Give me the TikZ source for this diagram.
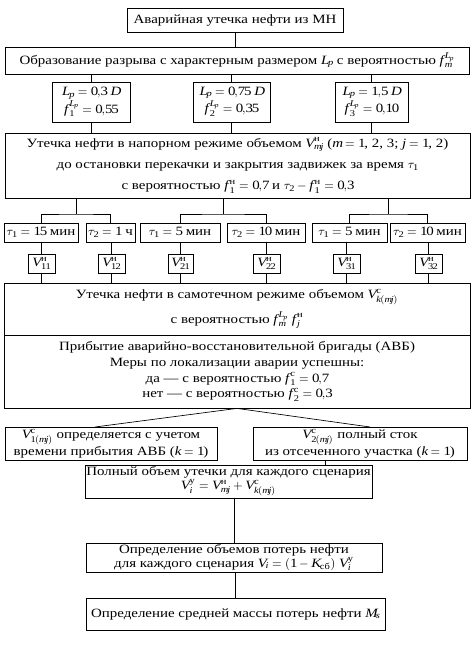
\documentclass[tikz,border=0pt]{standalone}
\usepackage{amsmath}
\usepackage{mathspec}
\setmainfont{Liberation Serif}[FakeStretch=1.18]
\setmathsfont(Digits,Latin)[FakeStretch=1.18]{Liberation Serif}
\usepackage{tikz}
\tikzset{
    blk/.style={
        draw, line width=0.6pt, inner sep=0pt, align=center,
        font=\fontsize{9.5}{11}\selectfont
    },
    lnk/.style={line width=0.5pt}
}
\newcommand{\blk}[7][] {
	\node[blk, minimum width={(#5-#3)*0.75pt}, minimum height={(#6-#4)*0.75pt}, #1] (#2) at ({(#3+#5)/2},{(#4+#6)/2}) {#7};
}
\newcommand{\cy}[1]{\text{#1}}
\newcommand{\ff}{{f\mkern2.5mu}}
\newcommand{\VV}{{V\mkern1.5mu}}

\begin{document}
\begin{tikzpicture}[x=0.75pt,y=-0.75pt]
		\useasboundingbox (0,0) rectangle (475,645);

		% Rupture and its size
		\blk{avar}{127}{8}{343}{32}{Аварийная утечка нефти из МН}
		\blk{razr}{5}{47}{469}{74}{Образование разрыва с характерным размером $L_p$ с вероятностью $\ff_m^{L_p}$}
		\blk[font=\fontsize{9.5}{13}\selectfont]{lpA}{52}{82}{130}{122}{$L_p = 0{,}3\ D$\\$\ff_1^{L_p} = 0{,}55$}
		\blk[font=\fontsize{9.5}{13}\selectfont]{lpB}{193}{82}{270}{122}{$L_p = 0{,}75\ D$\\$\ff_2^{L_p} = 0{,}35$}
		\blk[font=\fontsize{9.5}{13}\selectfont]{lpC}{335}{82}{408}{122}{$L_p = 1{,}5\ D$\\$\ff_3^{L_p} = 0{,}10$}

		% Pressure leak
		\blk[font=\fontsize{9.5}{16}\selectfont]{napor}{5}{133}{470}{198}
			{Утечка нефти в напорном режиме объемом $\VV_{mj}^{\cy{н}}$ ($m = 1$, 2, 3; $j = 1$, 2)\\
			до остановки перекачки и закрытия задвижек за время $\tau_1$\\
			с вероятностью $\ff_1^{\cy{н}} = 0{,}7$ и $\tau_2 - \ff_1^{\cy{н}} = 0{,}3$}

		\blk{t11}{4}{223}{78}{242}{$\tau_1 = 15$ мин}
		\blk{t12}{86}{223}{135}{242}{$\tau_2 = 1$ ч}
		\blk{t21}{140}{223}{220}{242}{$\tau_1 = 5$ мин}
		\blk{t22}{227}{223}{305}{242}{$\tau_2 = 10$ мин}
		\blk{t31}{312}{223}{387}{242}{$\tau_1 = 5$ мин}
		\blk{t32}{390}{223}{465}{242}{$\tau_2 = 10$ мин}

		\blk{v11}{28}{254}{55}{273}{$\VV_{11}^{\cy{н}}$}
		\blk{v12}{98}{254}{125}{273}{$\VV_{12}^{\cy{н}}$}
		\blk{v21}{168}{254}{193}{273}{$\VV_{21}^{\cy{н}}$}
		\blk{v22}{253}{254}{280}{273}{$\VV_{22}^{\cy{н}}$}
		\blk{v31}{333}{254}{360}{273}{$\VV_{31}^{\cy{н}}$}
		\blk{v32}{415}{254}{442}{273}{$\VV_{32}^{\cy{н}}$}

		% Gravity leak and the brigade
		\blk[font=\fontsize{9.5}{18.5}\selectfont]{samo}{4}{283}{470}{335}{Утечка нефти в самотечном режиме объемом $\VV_{k(mj)}^{\cy{с}}$\\с вероятностью $\ff_m^{L_p}\ \ff_j^{\cy{н}}$}
		\blk[font=\fontsize{9.5}{11.8}\selectfont]{avb}{4}{335}{470}{408}
			{Прибытие аварийно-восстановительной бригады (АВБ)\\
			Меры по локализации аварии успешны:\\
			да — с вероятностью $\ff_1^{\cy{с}} = 0{,}7$\\
			нет — с вероятностью $\ff_2^{\cy{с}} = 0{,}3$}

		\blk[font=\fontsize{9.5}{10.5}\selectfont]{kone}{5}{427}{217}{460}{$\VV_{1(mj)}^{\cy{с}}$ определяется с учетом\\времени прибытия АВБ ($k = 1$)}
		\blk[font=\fontsize{9.5}{10.5}\selectfont]{ktwo}{253}{427}{467}{460}{$\VV_{2(mj)}^{\cy{с}}$ полный сток\\из отсеченного участка ($k = 1$)}

		% Totals
		\blk[font=\fontsize{9.5}{10.5}\selectfont]{polny}{85}{465}{372}{498}{Полный объем утечки для каждого сценария\\$\VV_i^{\cy{у}} = \VV_{mj}^{\cy{н}} + \VV_{k(mj)}^{\cy{с}}$}
		\blk[font=\fontsize{9.5}{10.5}\selectfont]{poter}{86}{543}{382}{572}{Определение объемов потерь нефти\\для каждого сценария $V_i = (1 - K_{\cy{сб}})\ \VV_i^{\cy{у}}$}
		\blk{massa}{86}{598}{385}{630}{Определение средней массы потерь нефти $M_s$}

		% Connectors
		\coordinate (j1) at (76.5,214);
		\coordinate (j2) at (223,214);
		\coordinate (j3) at (388.5,214);
		\coordinate (kl) at (95,427);
		\coordinate (kr) at (370,427);
		\coordinate (s7) at (325,465);

		\draw[lnk] (avar.south) -- (avar.south |- razr.north);
		\foreach \n in {lpA,lpB,lpC} {
			\draw[lnk] (\n.north) -- (\n.north |- razr.south);
			\draw[lnk] (\n.south) -- (\n.south |- napor.north);
		}
		\draw[lnk] (napor.south -| j1) -- (j1);
		\draw[lnk] (napor.south -| j2) -- (j2);
		\draw[lnk] (napor.south -| j3) -- (j3);
		\draw[lnk] (t11.north) |- (j1) -| (t12.north);
		\draw[lnk] (t21.north) |- (j2) -| (t22.north);
		\draw[lnk] (t31.north) |- (j3) -| (t32.north);
		\foreach \a/\b in {t11/v11,t12/v12,t21/v21,t22/v22,t31/v31,t32/v32} {
			\draw[lnk] (\b.north) -- (\b.north |- \a.south);
			\draw[lnk] (\b.south) -- (\b.south |- samo.north);
		}
		\draw[lnk] (kl) -- (avb.south) -- (kr);
		\draw[lnk] (ktwo.south -| s7) -- (s7);
		\draw[lnk] (poter.north) -- (poter.north |- polny.south);
		\draw[lnk] (massa.north) -- (massa.north |- poter.south);

	\end{tikzpicture}
\end{document}
